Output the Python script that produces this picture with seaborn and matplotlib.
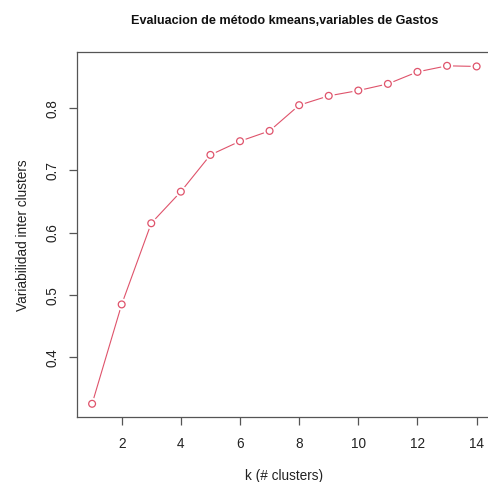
import matplotlib
matplotlib.use("Agg")
import matplotlib.pyplot as plt
import seaborn as sns
import pandas as pd

k_values = [1, 2, 3, 4, 5, 6, 7, 8, 9, 10, 11, 12, 13, 14]
variabilidad = [0.3255, 0.485, 0.6153, 0.666, 0.725, 0.747, 0.7635,
                0.8048, 0.8198, 0.8283, 0.839, 0.8583, 0.868, 0.867]
x_ticks = [2, 4, 6, 8, 10, 12, 14]
y_ticks = [0.4, 0.5, 0.6, 0.7, 0.8]
y_tick_labels = ["0.4", "0.5", "0.6", "0.7", "0.8"]

sns.set_style("white")
plt.rcParams['font.family'] = ['Liberation Sans', 'DejaVu Sans']

df = pd.DataFrame({"k": k_values, "v": variabilidad})
color = "#DF536B"

fig = plt.figure(figsize=(4.88, 4.82), dpi=100)
ax = fig.add_axes([0.1572, 0.1342, 0.851, 0.7573])

sns.lineplot(data=df, x="k", y="v", ax=ax, color=color, linewidth=0.8, zorder=2)
sns.scatterplot(data=df, x="k", y="v", ax=ax, s=75, color="white",
                edgecolor="none", linewidth=0, zorder=3)
sns.scatterplot(data=df, x="k", y="v", ax=ax, s=24, facecolor="none",
                edgecolor=color, linewidth=0.9, marker="o", zorder=4)

ax.set_xlim(0.48, 14.52)
ax.set_ylim(0.3038, 0.8897)
ax.set_xticks(x_ticks)
ax.set_xticklabels([str(t) for t in x_ticks], fontsize=9.8)
ax.set_yticks(y_ticks)
ax.set_yticklabels(y_tick_labels, rotation=90, va="center", fontsize=9.8)

for s in ax.spines.values():
    s.set_color("#555555")
    s.set_linewidth(0.9)
ax.spines["right"].set_visible(False)
ax.tick_params(axis="both", direction="out", length=6.0, width=0.9,
               color="#555555", labelcolor="#222222",
               bottom=True, left=True, top=False, right=False)
ax.tick_params(axis="x", pad=8.5)
ax.tick_params(axis="y", pad=6.5)

ax.set_xlabel("k (# clusters)", fontsize=9.8, color="#222222", labelpad=12.5)
ax.set_ylabel("Variabilidad inter clusters", fontsize=9.8, color="#222222", labelpad=11)
ax.set_title("Evaluacion de método kmeans,variables de Gastos", fontsize=9.1,
             fontweight="bold", pad=20.5, color="#111111")

fig.savefig("out.png", dpi=100, facecolor="white")
